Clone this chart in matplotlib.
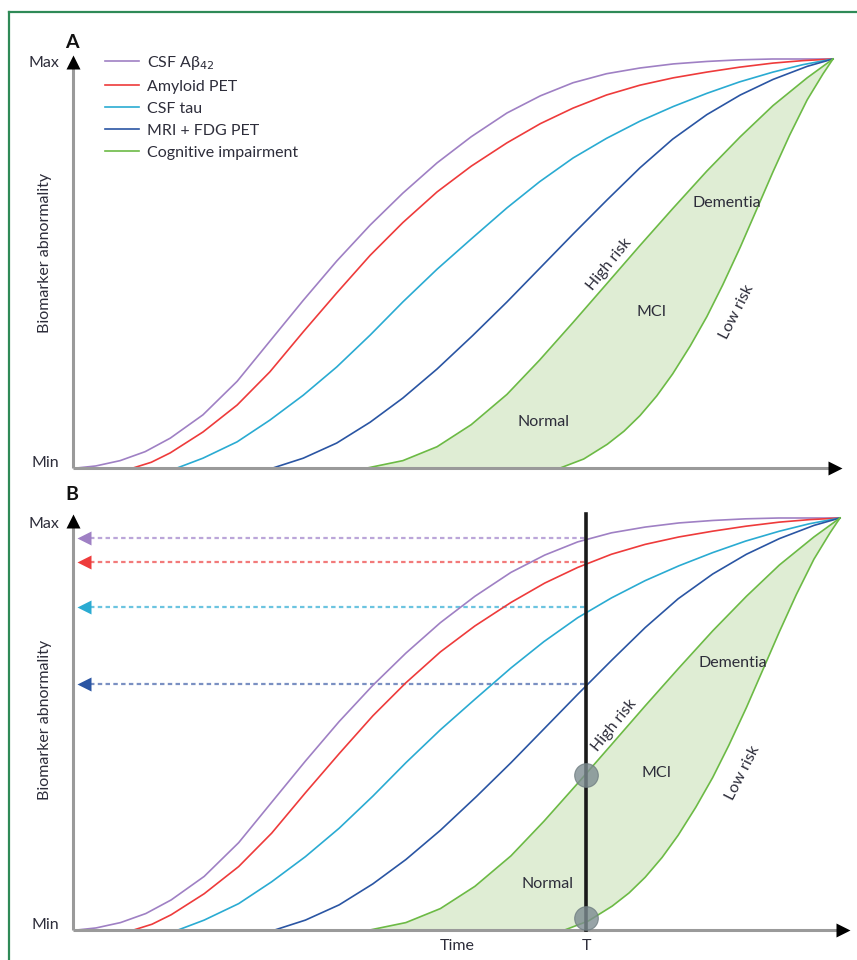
"""Biomarker cascade figure (panels A and B)."""

import matplotlib
matplotlib.use("Agg")
import matplotlib.pyplot as plt
import numpy as np

plt.rcParams["font.family"] = ["Lato", "DejaVu Sans"]

# normalised time (0-100) and abnormality (0 = Min, 100 = Max)
abeta_x = [0.5, 3.0, 6.2, 9.5, 12.8, 17.1, 21.6, 25.9, 30.3, 34.7, 39.1, 43.4, 47.9, 52.4, 57.1,
           61.5, 65.8, 70.2, 74.6, 79.0, 83.4, 87.7, 92.0, 96.0, 100]
abeta_y = [0, 0.5, 1.8, 4.0, 7.3, 13.0, 21.2, 31.0, 41.0, 50.6, 59.4, 67.2, 74.6, 81.0, 86.8,
           91.0, 94.2, 96.4, 97.8, 98.8, 99.4, 99.8, 100, 100, 100]

pet_x = [7.9, 10.3, 12.8, 17.1, 21.6, 25.9, 30.3, 34.7, 39.1, 43.4, 47.9, 52.4, 57.1, 61.5, 65.8,
         70.2, 74.6, 79.0, 83.4, 87.7, 92.1, 96.0, 100]
pet_y = [0, 1.4, 3.7, 8.8, 15.4, 23.5, 33.3, 42.8, 52.0, 60.0, 67.5, 73.8, 79.5, 84.2, 88.0,
         91.2, 93.6, 95.4, 96.8, 98.0, 99.0, 99.6, 100]

tau_x = [13.7, 17.1, 21.6, 25.9, 30.3, 34.7, 39.1, 43.4, 47.9, 52.4, 57.1, 61.4, 65.8, 70.2,
         74.6, 79.0, 83.4, 87.7, 92.1, 96.0, 100]
tau_y = [0, 2.4, 6.4, 11.7, 17.8, 24.7, 32.5, 40.6, 48.6, 56.0, 63.6, 70.0, 75.8, 80.6,
         84.8, 88.4, 91.6, 94.4, 96.8, 98.6, 100]

mri_x = [26.3, 30.3, 34.7, 39.1, 43.4, 47.9, 52.6, 57.1, 61.4, 65.8, 70.3, 74.6, 78.9, 83.4,
         87.8, 92.1, 96.6, 100]
mri_y = [0, 2.4, 6.1, 11.2, 17.1, 24.2, 32.4, 40.6, 48.8, 57.2, 65.6, 73.4, 80.4, 86.4,
         91.2, 95.0, 98.2, 100]

cog_high_x = [38.7, 43.4, 47.9, 52.4, 57.1, 61.4, 65.8, 70.3, 74.6, 78.9, 83.4, 87.8, 92.1, 96.6, 100]
cog_high_y = [0, 1.8, 5.2, 10.6, 18.0, 26.4, 35.6, 45.2, 54.4, 63.4, 72.6, 81.0, 88.6, 95.4, 100]

cog_low_x = [64.1, 67.2, 70.3, 72.5, 74.6, 76.8, 78.9, 81.2, 83.4, 85.5, 87.8, 90.0, 92.1,
             94.3, 96.6, 98.7, 100]
cog_low_y = [0, 2.2, 5.8, 9.0, 12.8, 17.6, 23.0, 29.8, 37.0, 44.8, 54.0, 63.4, 72.4,
             81.4, 90.0, 96.4, 100]

labels = ["CSF A\u03b2$_{42}$", "Amyloid PET", "CSF tau", "MRI + FDG PET", "Cognitive impairment"]
colors = ["#9f80c4", "#ee3b3b", "#2aabd2", "#2a55a3", "#6cba45"]
arrow_tints = ["#bba6d9", "#f27a7a", "#6cc4e0", "#7a90c2"]

# panel B: time point T and the levels each biomarker reaches there
t_mark = 66.9
t_levels = [95.1, 89.3, 78.4, 59.7]
t_cog_levels = [37.6, 2.9]

region_text = ["Dementia", "MCI", "Normal"]
region_x = [86.0, 76.1, 61.9]
region_y = [64.8, 38.2, 11.2]
risk_text = ["High risk", "Low risk"]
risk_x = [70.6, 87.3]
risk_y = [49.7, 38.1]
risk_rot = [51, 63]

W, H = 857, 960
fig = plt.figure(figsize=(W / 100, H / 100), dpi=100)
TXT = "#2d2d3a"
AXC = "#9a9a9a"
FS = 11.5


def px_axes(x0, x1, y_top, y_bot):
    return fig.add_axes([x0 / W, 1 - y_bot / H, (x1 - x0) / W, (y_bot - y_top) / H])


def draw_panel(ax, origin, xscale, yscale, left, right, top, bottom, x_head):
    ox, oy = origin
    ax.set_xlim((left - ox) / xscale, (right - ox) / xscale)
    ax.set_ylim((oy - bottom) / yscale, (oy - top) / yscale)
    ax.set_axis_off()
    series = [(abeta_x, abeta_y), (pet_x, pet_y), (tau_x, tau_y), (mri_x, mri_y)]
    fx = np.concatenate([cog_high_x, cog_low_x[::-1]])
    fy = np.concatenate([cog_high_y, cog_low_y[::-1]])
    ax.fill(fx, fy, color="#dfedd4", lw=0, zorder=1)
    handles = []
    for (xs, ys), c, lab in zip(series, colors, labels):
        h, = ax.plot(xs, ys, color=c, lw=1.2, zorder=3, label=lab)
        handles.append(h)
    h, = ax.plot(cog_high_x, cog_high_y, color=colors[4], lw=1.2, zorder=3, label=labels[4])
    handles.append(h)
    ax.plot(cog_low_x, cog_low_y, color=colors[4], lw=1.2, zorder=3)
    # axes with arrow heads
    ax.plot([0, 0], [0, 99], color=AXC, lw=2.2, zorder=4, solid_capstyle="butt")
    ax.plot([0, x_head], [0, 0], color=AXC, lw=2.2, zorder=4, solid_capstyle="butt")
    ax.plot(0, 99.3, marker="^", ms=9.5, color="black", mec="none", zorder=5, clip_on=False)
    ax.plot(x_head, 0, marker=">", ms=10, color="black", mec="none", zorder=5, clip_on=False)
    for t, x, y in zip(region_text, region_x, region_y):
        ax.text(x, y, t, ha="center", va="center", fontsize=FS, color=TXT, zorder=6)
    for t, x, y, r in zip(risk_text, risk_x, risk_y, risk_rot):
        ax.text(x, y, t, ha="center", va="center", fontsize=FS, color=TXT,
                rotation=r, rotation_mode="anchor", zorder=6)
    return handles


# panel A
axA = px_axes(58, 848, 48, 480)
handles = draw_panel(axA, (73, 468), 7.6, 4.09, 58, 848, 48, 480, 100.2)
axA.legend(handles=handles, loc="upper left", bbox_to_anchor=((105 - 58) / 790, 1 - (54 - 48) / 432),
           frameon=False, fontsize=FS, handlelength=2.1, handletextpad=0.5,
           labelspacing=0.49, borderpad=0, borderaxespad=0, labelcolor=TXT)

# panel B
axB = px_axes(58, 855, 506, 942)
draw_panel(axB, (73, 930), 7.67, 4.12, 58, 855, 506, 942, 100.4)
axB.plot([t_mark, t_mark], [0, 101], color="#1a1a1a", lw=2.6, zorder=7)
for lvl, c, tint in zip(t_levels, colors, arrow_tints):
    axB.plot([2.2, t_mark], [lvl, lvl], color=tint, lw=1.6, ls=(0, (2.0, 1.5)), zorder=2)
    axB.plot(1.4, lvl, marker="<", ms=10, color=c, mec="none", zorder=5)
axB.plot([t_mark] * 2, t_cog_levels, ls="none", marker="o", ms=17,
         color="#7d8c91", alpha=0.8, mec="#6e7c80", mew=0.8, zorder=8, clip_on=False)

# outside labels (pixel positions)
for x, y, s in [(72, 42, "A"), (72, 495, "B")]:
    fig.text(x / W, 1 - y / H, s, fontsize=14, fontweight="bold", ha="center", va="center", color="#111111")
for y, s in [(63, "Max"), (463, "Min"), (524, "Max"), (925, "Min")]:
    fig.text(59 / W, 1 - y / H, s, color=TXT, fontsize=FS, ha="right", va="center")
for y in [253, 720]:
    fig.text(45 / W, 1 - y / H, "Biomarker abnormality", color=TXT, fontsize=FS,
             ha="center", va="center", rotation=90)
fig.text(457 / W, 1 - 946 / H, "Time", color=TXT, fontsize=FS, ha="center", va="center")
fig.text(586 / W, 1 - 946 / H, "T", color=TXT, fontsize=FS, ha="center", va="center")

# frame
fig.add_artist(plt.Line2D([9 / W, 9 / W], [0, 1 - 12 / H], color="#2f8a57", lw=1.6))
fig.add_artist(plt.Line2D([9 / W, 1], [1 - 12 / H, 1 - 12 / H], color="#2f8a57", lw=1.6))

fig.savefig("out.png", dpi=100)
